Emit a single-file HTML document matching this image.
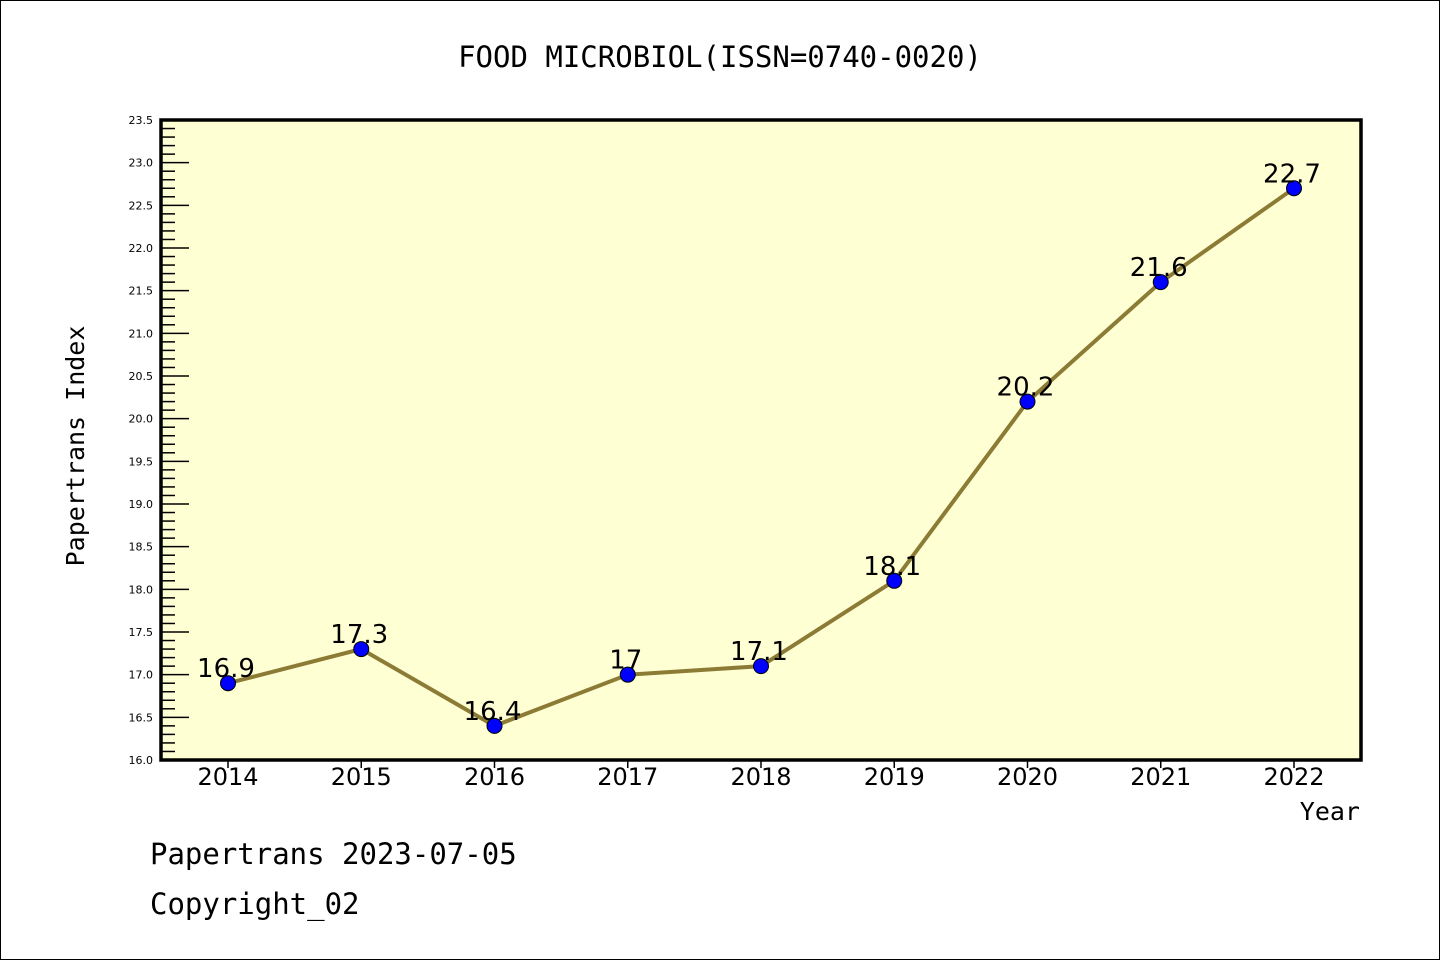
<!DOCTYPE html>
<html><head><meta charset="utf-8"><style>
html,body{margin:0;padding:0;background:#fff}
svg{display:block}
</style></head><body>
<svg id="chart" width="1440" height="960" xmlns="http://www.w3.org/2000/svg" font-family="'DejaVu Sans Mono','Liberation Mono',monospace">
<rect x="0.5" y="0.5" width="1439" height="959" fill="#fff" stroke="#000" stroke-width="1"/>
<text x="720" y="67" font-size="29" text-anchor="middle">FOOD MICROBIOL(ISSN=0740-0020)</text>
<rect x="161" y="120" width="1200" height="640" fill="#ffffd4"/>
<g id="yaxis"></g>
<g id="xaxis"></g>
<g id="series"></g>
<rect x="161" y="120" width="1200" height="640" fill="none" stroke="#000" stroke-width="3.5"/>
<text transform="translate(84,446) rotate(-90)" font-size="25" text-anchor="middle">Papertrans Index</text>
<text x="1360" y="820" font-size="25" text-anchor="end">Year</text>
<text x="150" y="864" font-size="29">Papertrans 2023-07-05</text>
<text x="150" y="914" font-size="29">Copyright_02</text>
</svg>
<script>
const years = ["2014","2015","2016","2017","2018","2019","2020","2021","2022"];
const values = [16.9,17.3,16.4,17.0,17.1,18.1,20.2,21.6,22.7];
const valueLabels = ["16.9","17.3","16.4","17","17.1","18.1","20.2","21.6","22.7"];
const yTicks = ["16.0","16.5","17.0","17.5","18.0","18.5","19.0","19.5","20.0","20.5","21.0","21.5","22.0","22.5","23.0","23.5"];
const NS="http://www.w3.org/2000/svg";
const yMin=16, yMax=23.5, pTop=120, pBottom=760, pLeft=161, pRight=1361;
const yScale=v=>pBottom-(v-yMin)/(yMax-yMin)*(pBottom-pTop);
const xScale=i=>228+i*(1294-228)/(years.length-1);
function mk(tag,attrs,parent){const e=document.createElementNS(NS,tag);for(const k in attrs)e.setAttribute(k,attrs[k]);parent.appendChild(e);return e;}
const ya=document.getElementById('yaxis'), xa=document.getElementById('xaxis'), sg=document.getElementById('series');
for(let k=0;k<=75;k++){
  const v=yMin+k*0.1, yy=yScale(v), major=k%5===0;
  const t=mk('line',{x1:pLeft,x2:pLeft+(major?28:14),y1:yy,y2:yy,stroke:'#000','stroke-width':1.5},ya);
  
  
}
yTicks.forEach(s=>{
  const tx=mk('text',{x:153,y:yScale(parseFloat(s))+4,'font-size':11,'text-anchor':'end','font-family':"'DejaVu Sans',sans-serif"},ya);
  tx.textContent=s;
  
  
});
years.forEach((yr,i)=>{
  const t=mk('line',{x1:xScale(i),x2:xScale(i),y1:pBottom,y2:pBottom+8,stroke:'#000','stroke-width':1.5},xa);
  
  
  const tx=mk('text',{x:xScale(i),y:785,'font-size':24,'text-anchor':'middle','font-family':"'DejaVu Sans',sans-serif"},xa);
  tx.textContent=yr;
  
  
});
const pl=mk('polyline',{points:values.map((v,i)=>xScale(i)+','+yScale(v)).join(' '),fill:'none',stroke:'#8c7b35','stroke-width':4},sg);


values.forEach((v,i)=>{
  const c=mk('circle',{cx:xScale(i),cy:yScale(v),r:7.5,fill:'#0000ff',stroke:'#000','stroke-width':1},sg);
  
  
  const tx=mk('text',{x:xScale(i)-2,y:yScale(v)-6,'font-size':26,'text-anchor':'middle','font-family':"'DejaVu Sans',sans-serif"},sg);
  tx.textContent=valueLabels[i];
  
  
});
</script>
</body></html>
